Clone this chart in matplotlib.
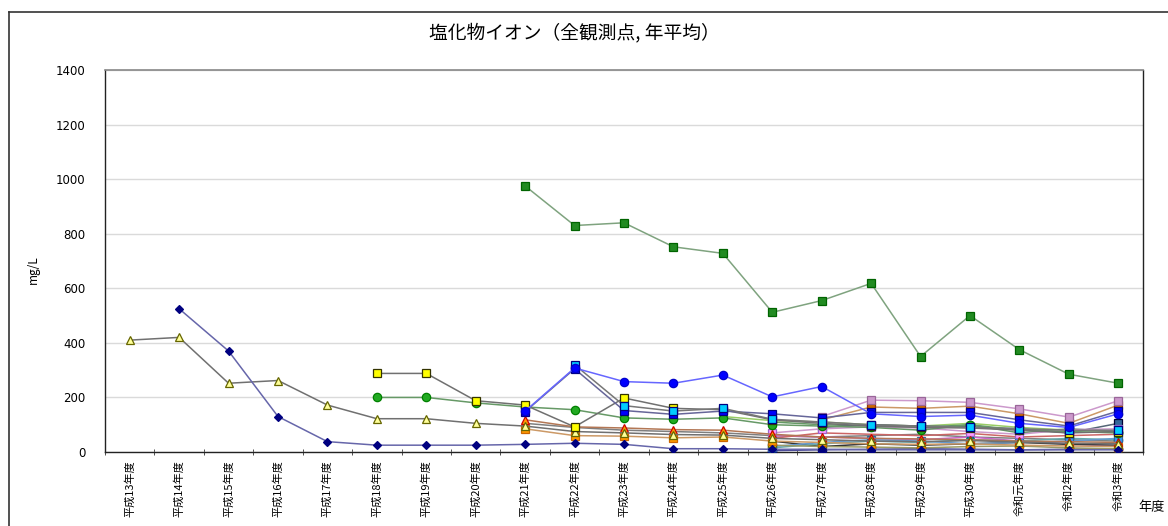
import matplotlib
matplotlib.use("Agg")
import matplotlib.pyplot as plt
from matplotlib.lines import Line2D
import numpy as np

plt.rcParams['font.family'] = ['Noto Sans CJK JP', 'DejaVu Sans']

years = ['平成13年度', '平成14年度', '平成15年度', '平成16年度', '平成17年度', '平成18年度',
         '平成19年度', '平成20年度', '平成21年度', '平成22年度', '平成23年度', '平成24年度',
         '平成25年度', '平成26年度', '平成27年度', '平成28年度', '平成29年度', '平成30年度',
         '令和元年度', '令和2年度', '令和3年度']

N = None
s_tri_yellow = [410, 420, 252, 262, 172, 122, 122, 105, 95, 75, 70, 64, 62, 50, 45, 40, 38, 42, 36, 32, 30]
s_navy_dia = [N, 525, 370, 130, 38, 25, 25, 25, 28, 32, 28, 12, 12, 10, 10, 8, 8, 8, 8, 8, 8]
s_yel_sq = [N, N, N, N, N, 288, 288, 188, 172, 92, 198, 160, 155, 118, 105, 95, 90, 88, 80, 70, 75]
s_grn_circ = [N, N, N, N, N, 200, 200, 180, 165, 155, 125, 120, 125, 100, 95, 90, 80, 100, 80, 75, 70]
s_grn_sq = [N, N, N, N, N, N, N, N, 975, 830, 840, 752, 728, 512, 555, 618, 350, 500, 375, 285, 252]
s_blue_circ = [N, N, N, N, N, N, N, N, 150, 308, 258, 252, 282, 202, 240, 140, 130, 135, 105, 90, 140]
s_cyan_sq = [N, N, N, N, N, N, N, N, N, 320, 170, 150, 160, 120, 110, 100, 95, 90, 85, 80, 80]
s_blue_sq = [N, N, N, N, N, N, N, N, 148, 305, 152, 138, 150, 140, 125, 145, 145, 145, 118, 95, 150]
s_org_tri = [N, N, N, N, N, N, N, N, 118, 92, 88, 82, 80, 65, 55, 50, 48, 45, 40, 38, 35]
s_org_sq = [N, N, N, N, N, N, N, N, 85, 60, 58, 52, 55, 40, 35, 30, 28, 30, 25, 22, 20]
s_grey_line = [N, N, N, N, N, N, N, N, 105, 90, 80, 75, 70, 60, 55, 60, 65, 55, 50, 45, 40]
s_lilac_sq = [N, N, N, N, N, N, N, N, N, N, N, N, N, N, 130, 190, 188, 182, 158, 128, 188]
s_brown_sq = [N, N, N, N, N, N, N, N, N, N, N, N, N, N, 118, 165, 160, 168, 140, 105, 172]
s_pink_sq = [N, N, N, N, N, N, N, N, N, N, N, N, N, 70, 85, 92, 88, 75, 65, 82, 85]
s_teal_sq = [N, N, N, N, N, N, N, N, N, N, N, N, N, N, 90, 100, 95, 92, 85, 70, 105]
s_yel_circ = [N, N, N, N, N, N, N, N, N, N, N, N, N, 25, 20, 18, 15, 20, 22, 15, 12]
s_teal_circ = [N, N, N, N, N, N, N, N, N, N, N, N, N, 15, 30, 40, 35, 45, 40, 50, 45]
s_lblue_sq = [N, N, N, N, N, N, N, N, N, N, N, N, N, 20, 35, 45, 40, 30, 35, 40, 50]
s_grn_circ2 = [N, N, N, N, N, N, N, N, N, N, N, N, N, 110, 100, 95, 90, 100, 70, 85, 75]
s_mag_line = [N, N, N, N, N, N, N, N, N, N, N, N, N, 60, 55, 50, 45, 55, 40, 30, 20]
s_red_line = [N, N, N, N, N, N, N, N, N, N, N, N, N, 50, 70, 65, 60, 68, 55, 60, 65]
s_black_line = [N, N, N, N, N, N, N, N, N, N, N, N, N, 40, 20, 30, 25, 30, 35, 28, 25]
s_lgrn_line = [N, N, N, N, N, N, N, N, N, N, N, N, 130, 115, 110, 100, 95, 105, 90, 80, 75]
s_navy_circ = [N, N, N, N, N, N, N, N, N, N, N, N, N, 5, 8, 10, 12, 10, 8, 10, 12]

series = [
    (s_grey_line, None, '#FFFFFF', '#FFFFFF', '#7F7F7F'),
    (s_lgrn_line, None, '#FFFFFF', '#FFFFFF', '#99CC66'),
    (s_mag_line, None, '#FFFFFF', '#FFFFFF', '#CC66CC'),
    (s_red_line, None, '#FFFFFF', '#FFFFFF', '#CC6666'),
    (s_black_line, None, '#FFFFFF', '#FFFFFF', '#333333'),
    (s_navy_circ, 'o', '#000080', '#000080', '#4D4D99'),
    (s_teal_circ, 'o', '#009999', '#006666', '#66AAAA'),
    (s_lblue_sq, 's', '#3399FF', '#336699', '#6699CC'),
    (s_grn_circ2, 'o', '#33AA33', '#006600', '#669966'),
    (s_yel_circ, 'o', '#CCCC00', '#666600', '#999966'),
    (s_teal_sq, 's', '#336699', '#000033', '#556677'),
    (s_pink_sq, 's', '#FF99FF', '#9966CC', '#CC99CC'),
    (s_brown_sq, 's', '#CC6600', '#993300', '#CC9966'),
    (s_lilac_sq, 's', '#CC99CC', '#996699', '#CC99CC'),
    (s_org_sq, 's', '#FF9900', '#CC6600', '#CC9966'),
    (s_org_tri, '^', '#FF9900', '#CC0000', '#B37755'),
    (s_tri_yellow, '^', '#FFFF99', '#666600', '#707070'),
    (s_navy_dia, 'D', '#000080', '#000080', '#6666AA'),
    (s_grn_circ, 'o', '#22AA22', '#008000', '#669966'),
    (s_yel_sq, 's', '#FFFF00', '#333300', '#707070'),
    (s_blue_sq, 's', '#0000FF', '#000080', '#666699'),
    (s_cyan_sq, 's', '#00CCFF', '#000080', '#777777'),
    (s_blue_circ, 'o', '#0000FF', '#0000CC', '#6666FF'),
    (s_grn_sq, 's', '#228B22', '#006400', '#7FA37F'),
]

fig = plt.figure(figsize=(11.68, 5.26), dpi=100)
ax = fig.add_axes([105/1168, 74/526, (1143-105)/1168, (452-70)/526])

x = np.arange(len(years))
for vals, mk, fc, ec, lc in series:
    y = np.array([np.nan if v is None else v for v in vals], dtype=float)
    if mk is None:
        ax.plot(x, y, color=lc, lw=1.1, zorder=2)
    else:
        ms = 4.5 if mk == 'D' else 6
        ax.plot(x, y, color=lc, lw=1.1, marker=mk, markersize=ms,
                markerfacecolor=fc, markeredgecolor=ec, markeredgewidth=0.9, zorder=3)

ax.set_xlim(-0.5, len(years) - 0.5)
ax.set_ylim(0, 1400)
ax.set_yticks(np.arange(0, 1401, 200))
ax.set_yticklabels([str(v) for v in range(0, 1401, 200)], fontsize=8.5, family='DejaVu Sans')
ax.yaxis.grid(True, color='#DADADA', lw=1)
ax.set_axisbelow(True)
ax.tick_params(axis='y', length=0, pad=14)

ax.set_xticks(x)
ax.set_xticklabels(years, rotation=90, fontsize=8)
ax.tick_params(axis='x', which='major', length=0, pad=6)
ax.set_xticks(np.arange(-0.5, len(years), 1), minor=True)
ax.tick_params(axis='x', which='minor', length=5, direction='inout', color='#333333')

for side in ['left', 'bottom', 'right']:
    ax.spines[side].set_color('#222222')
    ax.spines[side].set_linewidth(1.0)
ax.spines['top'].set_color('#888888')
ax.spines['top'].set_linewidth(1.2)

fig.text(574/1168, 1 - 33/526, '塩化物イオン（全観測点, 年平均）', ha='center', va='center', fontsize=13.5)
fig.text(33/1168, 1 - 270/526, 'mg/L', rotation=90, ha='center', va='center', fontsize=8.5)
fig.text(1138/1168, 1 - 508/526, '年度', ha='left', va='center', fontsize=9.5)

fig.add_artist(Line2D([9/1168, 9/1168], [0, 1 - 12/526], color='#333333', lw=1.2, transform=fig.transFigure))
fig.add_artist(Line2D([9/1168, 1], [1 - 12/526, 1 - 12/526], color='#333333', lw=1.2, transform=fig.transFigure))

fig.savefig('out.png', dpi=100)
